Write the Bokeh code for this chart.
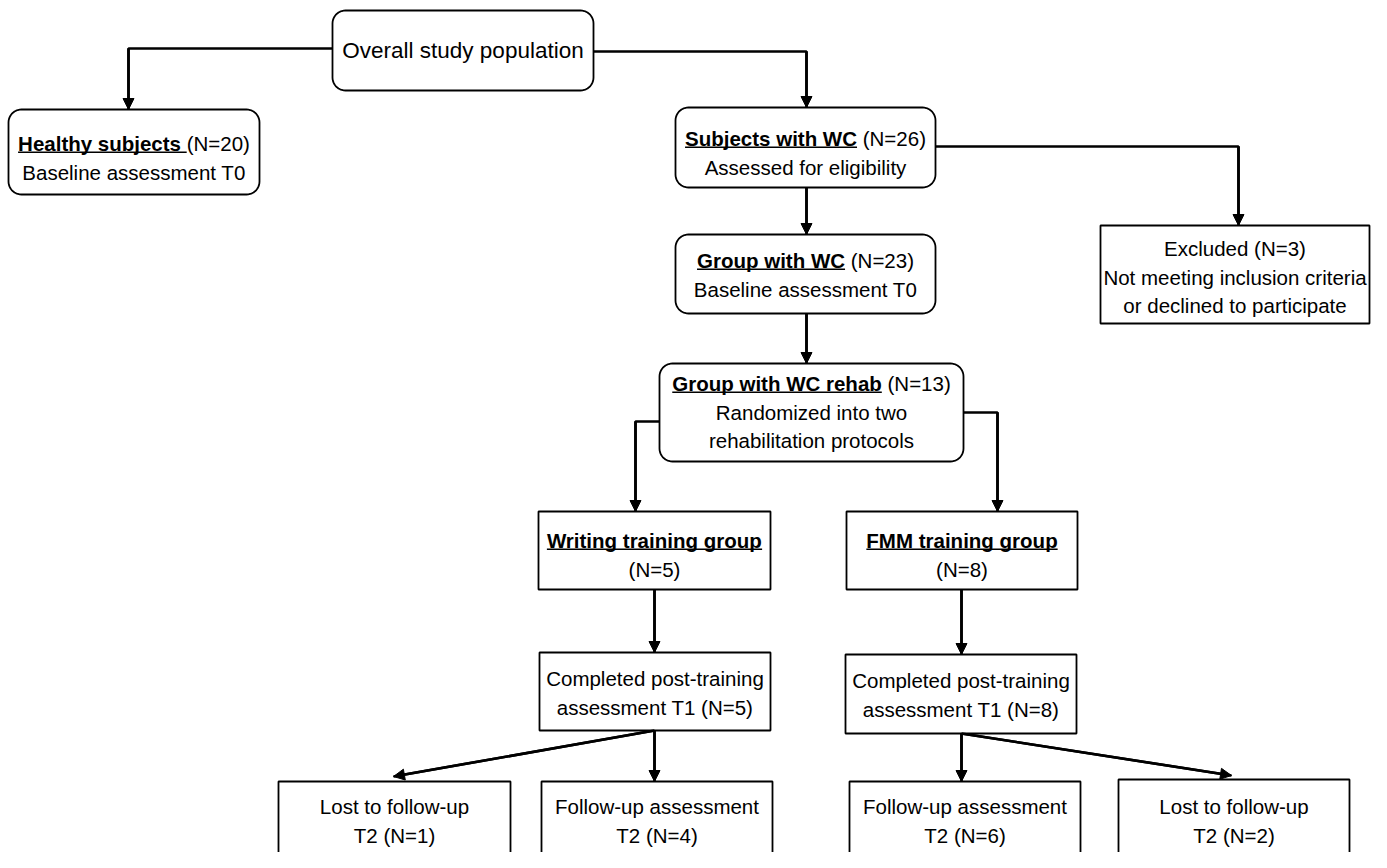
import glob, os, struct
import numpy as np
from bokeh.plotting import figure
from bokeh.models import Arrow, NormalHead, ColumnDataSource, Range1d
from bokeh.core.properties import value
from bokeh.embed import file_html
from bokeh.resources import INLINE

# ---------------- content ----------------
box_names = ["overall", "healthy", "subjects", "group", "rehab", "excluded",
             "writing", "fmm", "comp_l", "comp_r", "lost_l", "follow_l",
             "follow_r", "lost_r"]
# each line is a list of (text, emphasised = bold + underlined)
box_lines = [
    [[("Overall study population", False)]],
    [[("Healthy subjects ", True), ("(N=20)", False)], [("Baseline assessment T0", False)]],
    [[("Subjects with WC", True), (" (N=26)", False)], [("Assessed for eligibility", False)]],
    [[("Group with WC", True), (" (N=23)", False)], [("Baseline assessment T0", False)]],
    [[("Group with WC rehab", True), (" (N=13)", False)], [("Randomized into two", False)],
     [("rehabilitation protocols", False)]],
    [[("Excluded (N=3)", False)], [("Not meeting inclusion criteria", False)],
     [("or declined to participate", False)]],
    [[("Writing training group", True)], [("(N=5)", False)]],
    [[("FMM training group", True)], [("(N=8)", False)]],
    [[("Completed post-training", False)], [("assessment T1 (N=5)", False)]],
    [[("Completed post-training", False)], [("assessment T1 (N=8)", False)]],
    [[("Lost to follow-up", False)], [("T2 (N=1)", False)]],
    [[("Follow-up assessment", False)], [("T2 (N=4)", False)]],
    [[("Follow-up assessment", False)], [("T2 (N=6)", False)]],
    [[("Lost to follow-up", False)], [("T2 (N=2)", False)]],
]

# ---------------- layout (page pixels, y downwards) ----------------
box_left   = [332,   8, 675, 675, 659, 1100, 538,  846, 539, 845, 278, 541,  849, 1118]
box_right  = [593, 259, 935, 935, 963, 1369, 770, 1077, 770, 1076, 510, 772, 1080, 1349]
box_top    = [ 10, 109, 107, 234, 363,  225, 511,  511, 652, 654, 781, 781,  781,  779]
box_bottom = [ 90, 194, 187, 313, 461,  323, 589,  589, 730, 733, 900, 900,  900,  900]
box_round  = [True, True, True, True, True, False, False, False, False, False,
              False, False, False, False]
text_first_y = [50, 143, 138, 260, 383, 248, 540, 540, 678, 680, 806, 806, 806, 806]
box_font_px = [22.5] + [20.5] * 13
LINE_GAP = 28.5
RADIUS = 13
W, H = 1371, 852

idx = {n: i for i, n in enumerate(box_names)}
L = lambda n: box_left[idx[n]]
R = lambda n: box_right[idx[n]]
T = lambda n: box_top[idx[n]]
B = lambda n: box_bottom[idx[n]]

# connectors: polyline points, arrow head on the last segment
routes = [
    [(L("overall"), 48), (128, 48), (128, T("healthy"))],
    [(R("overall"), 51), (806, 51), (806, T("subjects"))],
    [(R("subjects"), 146), (1238, 146), (1238, T("excluded"))],
    [(806, B("subjects")), (806, T("group"))],
    [(806, B("group")), (806, T("rehab"))],
    [(L("rehab"), 421), (635, 421), (635, T("writing"))],
    [(R("rehab"), 412), (997, 412), (997, T("fmm"))],
    [(654, B("writing")), (654, T("comp_l"))],
    [(961, B("fmm")), (961, T("comp_r"))],
    [(654, B("comp_l")), (393, T("lost_l") - 5)],
    [(654, B("comp_l")), (654, T("follow_l"))],
    [(961, B("comp_r")), (961, T("follow_r"))],
    [(961, B("comp_r")), (1231, T("lost_r") - 4)],
]

# ---------------- font metrics (for centring and underlines) ----------------
def find_file(pattern):
    for root in ["/usr/share/fonts", "/usr/local/share/fonts", os.path.expanduser("~/.fonts"),
                 os.path.expanduser("~/.local/share/fonts")]:
        hits = glob.glob(os.path.join(root, "**", pattern), recursive=True)
        if hits:
            return hits[0]
    return None


def load_metrics(path):
    data = open(path, "rb").read()
    n_tables = struct.unpack(">H", data[4:6])[0]
    tables = {}
    for i in range(n_tables):
        tag, _, off, ln = struct.unpack(">4sIII", data[12 + 16 * i:28 + 16 * i])
        tables[tag.decode("latin-1")] = off
    head = tables["head"]
    upem = struct.unpack(">H", data[head + 18:head + 20])[0]
    hhea = tables["hhea"]
    num_h = struct.unpack(">H", data[hhea + 34:hhea + 36])[0]
    hmtx = tables["hmtx"]
    adv = [struct.unpack(">H", data[hmtx + 4 * i:hmtx + 4 * i + 2])[0] for i in range(num_h)]
    cmap = tables["cmap"]
    n_sub = struct.unpack(">H", data[cmap + 2:cmap + 4])[0]
    sub = None
    for i in range(n_sub):
        pid, eid, off = struct.unpack(">HHI", data[cmap + 4 + 8 * i:cmap + 12 + 8 * i])
        fmt = struct.unpack(">H", data[cmap + off:cmap + off + 2])[0]
        if fmt == 4 and (pid == 3 or pid == 0):
            sub = cmap + off
            break
    seg2 = struct.unpack(">H", data[sub + 6:sub + 8])[0]
    seg = seg2 // 2
    ends = struct.unpack(">%dH" % seg, data[sub + 14:sub + 14 + seg2])
    starts = struct.unpack(">%dH" % seg, data[sub + 16 + seg2:sub + 16 + 2 * seg2])
    deltas = struct.unpack(">%dh" % seg, data[sub + 16 + 2 * seg2:sub + 16 + 3 * seg2])
    rpos = sub + 16 + 3 * seg2
    roffs = struct.unpack(">%dH" % seg, data[rpos:rpos + seg2])

    def gid(c):
        for i in range(seg):
            if starts[i] <= c <= ends[i]:
                if roffs[i] == 0:
                    return (c + deltas[i]) & 0xFFFF
                a = rpos + 2 * i + roffs[i] + 2 * (c - starts[i])
                g = struct.unpack(">H", data[a:a + 2])[0]
                return (g + deltas[i]) & 0xFFFF if g else 0
        return 0

    def width(s, size):
        return sum(adv[min(gid(ord(ch)), num_h - 1)] for ch in s) / upem * size
    return width


FONT = "Liberation Sans"
try:
    w_reg = load_metrics(find_file("LiberationSans-Regular.ttf"))
    w_bold = load_metrics(find_file("LiberationSans-Bold.ttf"))
except Exception:
    w_reg = lambda s, size: 0.50 * size * len(s)
    w_bold = lambda s, size: 0.55 * size * len(s)

# ---------------- figure ----------------
p = figure(width=W, height=H, x_range=Range1d(0, W), y_range=Range1d(H, 0),
           output_backend="svg", toolbar_location=None, x_axis_type=None, y_axis_type=None,
           min_border=0, outline_line_color=None, background_fill_color="white")
p.grid.visible = False

# connector lines
p.multi_line(xs=[[pt[0] for pt in r] for r in routes], ys=[[pt[1] for pt in r] for r in routes],
             line_color="black", line_width=2.6)

# boxes
def rounded(l, r, t, b, rad):
    xs, ys = [], []
    corners = [((l + rad, t + rad), np.pi, 1.5 * np.pi),
               ((r - rad, t + rad), 1.5 * np.pi, 2 * np.pi),
               ((r - rad, b - rad), 0.0, 0.5 * np.pi),
               ((l + rad, b - rad), 0.5 * np.pi, np.pi)]
    for (cx, cy), a0, a1 in corners:
        th = np.linspace(a0, a1, 12)
        xs.extend(cx + rad * np.cos(th))
        ys.extend(cy + rad * np.sin(th))
    return xs, ys

pxs, pys = [], []
for i in range(len(box_names)):
    l, r, t, b = box_left[i], box_right[i], box_top[i], box_bottom[i]
    if box_round[i]:
        xs, ys = rounded(l, r, t, b, RADIUS)
    else:
        xs, ys = [l, r, r, l], [t, t, b, b]
    pxs.append(list(xs))
    pys.append(list(ys))
p.patches(pxs, pys, fill_color="white", line_color="black", line_width=1.8)

# texts
groups = {}
ul = dict(x0=[], x1=[], y=[])
for i, lines in enumerate(box_lines):
    cx = (box_left[i] + box_right[i]) / 2
    fs = box_font_px[i]
    for k, segs in enumerate(lines):
        y = text_first_y[i] + k * LINE_GAP
        widths = [(w_bold if em else w_reg)(s, fs) for s, em in segs]
        x = cx - sum(widths) / 2
        for (s, em), w in zip(segs, widths):
            stripped = s.lstrip()
            lead = (w_bold if em else w_reg)(s[:len(s) - len(stripped)], fs)
            d = groups.setdefault((fs, em), dict(x=[], y=[], text=[]))
            d["x"].append(x + lead)
            d["y"].append(y)
            d["text"].append(stripped.rstrip())
            if em:
                ul["x0"].append(x)
                ul["x1"].append(x + w)
                ul["y"].append(y + 0.43 * fs)
            x += w

for (fs, em), d in groups.items():
    p.text(x="x", y="y", text="text", source=ColumnDataSource(d), text_font=value(FONT),
           text_font_size=value(f"{fs}px"), text_font_style="bold" if em else "normal",
           text_align="left", text_baseline="middle", text_color="black")

p.segment(x0="x0", y0="y", x1="x1", y1="y", source=ColumnDataSource(ul),
          line_color="black", line_width=1.6)

# arrow heads on the last segment of each route
arr = ColumnDataSource(dict(
    xs=[r[-2][0] for r in routes], ys=[r[-2][1] for r in routes],
    xe=[r[-1][0] for r in routes], ye=[r[-1][1] for r in routes]))
p.add_layout(Arrow(end=NormalHead(size=11, fill_color="black", line_color="black", line_width=1),
                   x_start="xs", y_start="ys", x_end="xe", y_end="ye", source=arr,
                   line_color="black", line_width=2.6))

open("out.html", "w").write(file_html(p, INLINE))
